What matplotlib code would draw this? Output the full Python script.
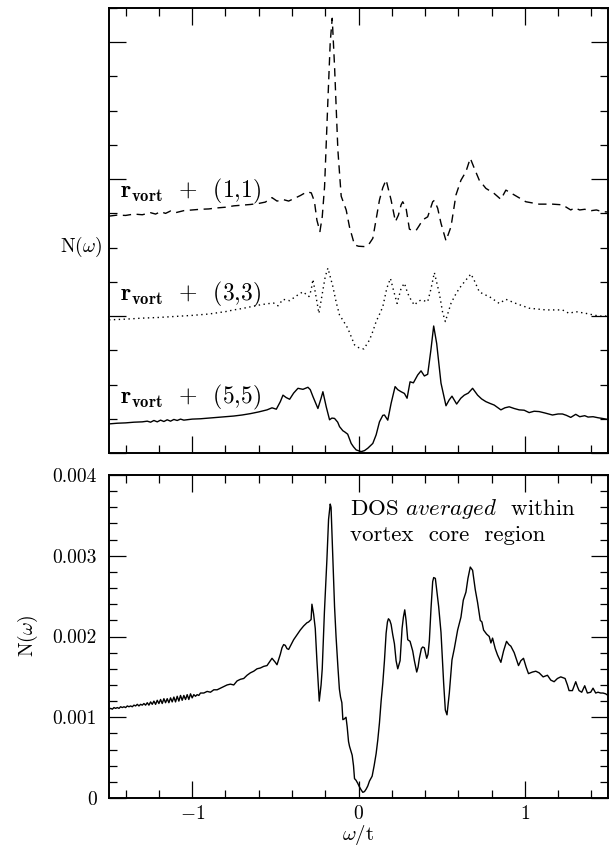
import numpy as np
import matplotlib
matplotlib.use("Agg")
import matplotlib.pyplot as plt
from matplotlib.ticker import MultipleLocator

plt.rcParams['font.family'] = ['cmr10', 'DejaVu Serif']
plt.rcParams['mathtext.fontset'] = 'cm'
plt.rcParams['axes.unicode_minus'] = False

# ---------------- data: top panel (offset curves, arbitrary units) ----------------
x_11 = [-1.50, -1.45, -1.40, -1.35, -1.30, -1.25, -1.22, -1.19, -1.16, -1.13, -1.10, -1.05,
        -1.00, -0.95, -0.90, -0.85, -0.80, -0.75, -0.70, -0.65, -0.60, -0.56, -0.52, -0.49,
        -0.45, -0.42, -0.38, -0.35, -0.31, -0.284, -0.265, -0.25, -0.232, -0.218, -0.204,
        -0.184, -0.17, -0.158, -0.144, -0.124, -0.104, -0.074, -0.054, -0.024, 0.00, 0.036,
        0.06, 0.086, 0.105, 0.126, 0.146, 0.166, 0.18, 0.196, 0.222, 0.24, 0.256, 0.266,
        0.286, 0.306, 0.326, 0.346, 0.366, 0.386, 0.416, 0.446, 0.456, 0.476, 0.496, 0.526,
        0.556, 0.586, 0.616, 0.646, 0.672, 0.696, 0.726, 0.766, 0.816, 0.856, 0.886, 0.936,
        1.006, 1.086, 1.166, 1.226, 1.276, 1.30, 1.33, 1.36, 1.40, 1.43, 1.466, 1.50]
y_11 = [6.92, 6.95, 6.94, 6.98, 6.96, 7.02, 6.98, 7.05, 7.00, 7.07, 7.02, 7.08,
        7.10, 7.12, 7.13, 7.16, 7.18, 7.22, 7.24, 7.26, 7.29, 7.33, 7.46, 7.36,
        7.40, 7.36, 7.45, 7.52, 7.63, 7.60, 7.35, 6.80, 6.47, 6.90, 7.78,
        10.30, 12.00, 12.70, 11.30, 8.85, 7.50, 7.10, 6.60, 6.08, 6.04, 6.03,
        6.08, 6.27, 6.80, 7.39, 7.75, 7.98, 7.70, 7.39, 6.76, 6.95, 7.25, 7.34,
        7.15, 6.54, 6.50, 6.50, 6.65, 6.81, 6.90, 7.34, 7.38, 7.15, 6.71, 6.20,
        6.61, 7.54, 7.97, 8.22, 8.61, 8.32, 7.97, 7.73, 7.58, 7.41, 7.68, 7.54,
        7.34, 7.27, 7.27, 7.25, 7.10, 7.16, 7.10, 7.12, 7.08, 7.10, 7.05, 7.04]

x_33 = [-1.50, -1.40, -1.30, -1.20, -1.10, -1.00, -0.90, -0.80, -0.75, -0.70, -0.65, -0.60,
        -0.55, -0.51, -0.484, -0.454, -0.414, -0.37, -0.334, -0.298, -0.285, -0.274, -0.26,
        -0.238, -0.214, -0.20, -0.184, -0.17, -0.154, -0.134, -0.114, -0.09, -0.064, -0.044,
        -0.024, 0.00, 0.032, 0.066, 0.086, 0.106, 0.126, 0.146, 0.17, 0.192, 0.21, 0.232,
        0.256, 0.276, 0.296, 0.316, 0.336, 0.356, 0.376, 0.416, 0.436, 0.456, 0.486, 0.506,
        0.522, 0.556, 0.58, 0.606, 0.64, 0.676, 0.70, 0.726, 0.756, 0.786, 0.816, 0.846,
        0.886, 0.946, 1.026, 1.126, 1.226, 1.266, 1.306, 1.366, 1.446, 1.50]
y_33 = [3.89, 3.91, 3.94, 3.96, 3.99, 4.02, 4.06, 4.13, 4.18, 4.22, 4.27, 4.32,
        4.36, 4.38, 4.30, 4.49, 4.45, 4.60, 4.71, 4.57, 4.75, 5.07, 4.70,
        4.08, 4.76, 5.15, 5.40, 5.15, 4.86, 4.40, 4.03, 3.85, 3.64, 3.40,
        3.16, 3.08, 3.04, 3.30, 3.55, 3.84, 4.05, 4.27, 4.81, 5.10, 4.76, 4.37,
        4.81, 4.96, 4.66, 4.47, 4.32, 4.42, 4.47, 4.42, 4.80, 5.27, 4.66, 4.10,
        3.84, 4.37, 4.60, 4.81, 5.02, 5.23, 5.00, 4.71, 4.63, 4.57, 4.47, 4.37,
        4.49, 4.37, 4.23, 4.18, 4.18, 4.08, 4.13, 4.08, 4.00, 4.00]

x_55 = [-1.50, -1.45, -1.40, -1.35, -1.30, -1.27, -1.25, -1.23, -1.21, -1.19, -1.17, -1.15,
        -1.13, -1.11, -1.09, -1.07, -1.05, -1.00, -0.95, -0.90, -0.85, -0.80, -0.75, -0.70,
        -0.65, -0.60, -0.55, -0.52, -0.494, -0.47, -0.454, -0.435, -0.414, -0.39, -0.364,
        -0.334, -0.304, -0.29, -0.274, -0.244, -0.225, -0.214, -0.194, -0.174, -0.16, -0.144,
        -0.125, -0.114, -0.094, -0.084, -0.065, -0.044, -0.03, -0.014, 0.016, 0.036, 0.056,
        0.086, 0.106, 0.126, 0.146, 0.156, 0.176, 0.196, 0.22, 0.236, 0.256, 0.276, 0.292,
        0.31, 0.33, 0.356, 0.376, 0.396, 0.416, 0.435, 0.452, 0.47, 0.496, 0.526, 0.545,
        0.562, 0.59, 0.615, 0.636, 0.66, 0.686, 0.716, 0.74, 0.766, 0.79, 0.816, 0.836,
        0.856, 0.88, 0.906, 0.936, 0.966, 0.996, 1.026, 1.056, 1.086, 1.12, 1.166, 1.20,
        1.226, 1.25, 1.276, 1.306, 1.33, 1.36, 1.38, 1.41, 1.44, 1.466, 1.50]
y_55 = [0.85, 0.87, 0.88, 0.90, 0.91, 0.93, 0.90, 0.95, 0.91, 0.96, 0.92, 0.97,
        0.93, 0.98, 0.95, 0.99, 0.96, 0.99, 1.00, 1.02, 1.04, 1.06, 1.08, 1.11,
        1.15, 1.20, 1.26, 1.32, 1.28, 1.50, 1.69, 1.62, 1.57, 1.75, 1.89,
        1.86, 1.92, 1.85, 1.65, 1.30, 1.60, 1.79, 1.35, 0.97, 1.02, 1.01,
        0.90, 0.77, 0.65, 0.62, 0.55, 0.28, 0.18, 0.09, 0.04, 0.07, 0.14,
        0.28, 0.53, 0.91, 1.10, 1.11, 0.96, 1.45, 1.94, 1.85, 1.79, 1.74, 1.60,
        2.08, 2.05, 2.28, 2.40, 2.25, 2.30, 3.00, 3.71, 3.20, 2.04, 1.38, 1.55,
        1.66, 1.43, 1.60, 1.69, 1.75, 1.89, 1.69, 1.58, 1.50, 1.45, 1.40, 1.33,
        1.26, 1.32, 1.35, 1.30, 1.26, 1.25, 1.18, 1.22, 1.21, 1.17, 1.11, 1.14,
        1.14, 1.10, 1.04, 1.13, 1.06, 1.09, 1.05, 1.06, 1.03, 1.01, 0.98]

labels_top = [r'$\mathbf{r}_{\mathbf{vort}}$  +  (1,1)',
              r'$\mathbf{r}_{\mathbf{vort}}$  +  (3,3)',
              r'$\mathbf{r}_{\mathbf{vort}}$  +  (5,5)']
label_y = [7.48, 4.47, 1.46]

# ---------------- data: bottom panel (averaged DOS, units of 1e-3) ----------------
x_avg = [-1.50, -1.49, -1.48, -1.47, -1.46, -1.45, -1.44, -1.43, -1.42, -1.41, -1.40, -1.39,
         -1.38, -1.37, -1.36, -1.35, -1.34, -1.33, -1.32, -1.31, -1.30, -1.29, -1.28, -1.27,
         -1.26, -1.25, -1.24, -1.23, -1.22, -1.21, -1.20, -1.19, -1.18, -1.17, -1.16, -1.15,
         -1.14, -1.13, -1.12, -1.11, -1.10, -1.09, -1.08, -1.07, -1.06, -1.05, -1.04, -1.03,
         -1.02, -1.01, -1.00, -0.99, -0.98, -0.97, -0.96, -0.95, -0.93, -0.91, -0.89, -0.87,
         -0.85, -0.83, -0.81, -0.79, -0.77, -0.75, -0.73, -0.71, -0.69, -0.67, -0.65, -0.63,
         -0.61, -0.59, -0.57, -0.55, -0.53, -0.52, -0.50, -0.49, -0.47, -0.46, -0.45, -0.44,
         -0.43, -0.42, -0.41, -0.39, -0.37, -0.35, -0.33, -0.31, -0.30, -0.29, -0.285, -0.28,
         -0.27, -0.26, -0.25, -0.236, -0.225, -0.218, -0.205, -0.19, -0.18, -0.17, -0.165,
         -0.158, -0.15, -0.144, -0.135, -0.124, -0.115, -0.108, -0.10, -0.094, -0.085, -0.075,
         -0.068, -0.06, -0.054, -0.045, -0.038, -0.03, -0.024, -0.015, -0.004, 0.005, 0.016,
         0.026, 0.036, 0.046, 0.056, 0.066, 0.082, 0.094, 0.106, 0.116, 0.126, 0.136, 0.146,
         0.156, 0.166, 0.174, 0.18, 0.188, 0.196, 0.206, 0.216, 0.226, 0.236, 0.25, 0.262,
         0.27, 0.278, 0.286, 0.296, 0.31, 0.318, 0.326, 0.336, 0.35, 0.358, 0.366, 0.378,
         0.386, 0.396, 0.41, 0.418, 0.426, 0.436, 0.446, 0.452, 0.462, 0.472, 0.482, 0.496,
         0.512, 0.522, 0.532, 0.546, 0.562, 0.576, 0.596, 0.616, 0.63, 0.646, 0.658, 0.672,
         0.686, 0.702, 0.716, 0.732, 0.742, 0.752, 0.77, 0.786, 0.796, 0.806, 0.822, 0.836,
         0.856, 0.872, 0.89, 0.904, 0.916, 0.936, 0.962, 0.976, 0.992, 1.008, 1.022, 1.046,
         1.066, 1.086, 1.11, 1.136, 1.156, 1.176, 1.196, 1.216, 1.242, 1.256, 1.266, 1.286,
         1.306, 1.316, 1.326, 1.342, 1.36, 1.376, 1.396, 1.41, 1.426, 1.44, 1.456, 1.47,
         1.486, 1.50]
n_avg_milli = [1.10, 1.11, 1.10, 1.12, 1.11, 1.12, 1.11, 1.13, 1.12, 1.13, 1.12, 1.14,
               1.13, 1.14, 1.13, 1.15, 1.14, 1.16, 1.14, 1.16, 1.15, 1.17, 1.15, 1.18,
               1.15, 1.19, 1.16, 1.20, 1.16, 1.21, 1.17, 1.22, 1.17, 1.23, 1.18, 1.23,
               1.18, 1.24, 1.19, 1.25, 1.19, 1.26, 1.20, 1.27, 1.21, 1.27, 1.22, 1.28,
               1.22, 1.29, 1.24, 1.28, 1.26, 1.28, 1.27, 1.30, 1.30, 1.32, 1.31, 1.34,
               1.34, 1.36, 1.38, 1.40, 1.41, 1.40, 1.45, 1.47, 1.48, 1.52, 1.55, 1.57,
               1.60, 1.61, 1.63, 1.64, 1.70, 1.73, 1.68, 1.65, 1.78, 1.86, 1.90, 1.89,
               1.85, 1.84, 1.88, 1.96, 2.02, 2.08, 2.13, 2.17, 2.18, 2.20, 2.21, 2.40,
               2.28, 2.10, 1.70, 1.20, 1.40, 1.60, 2.30, 2.95, 3.45, 3.64, 3.60,
               3.20, 2.75, 2.37, 2.00, 1.63, 1.35, 1.25, 1.18, 0.97, 0.98, 1.00,
               0.88, 0.70, 0.64, 0.58, 0.53, 0.40, 0.24, 0.22, 0.18, 0.14, 0.10,
               0.07, 0.08, 0.11, 0.15, 0.21, 0.27, 0.40, 0.55, 0.72, 0.93, 1.20, 1.42,
               1.70, 2.04, 2.18, 2.22, 2.20, 2.15, 2.02, 1.91, 1.70, 1.60, 1.70, 2.10,
               2.24, 2.33, 2.20, 1.96, 1.94, 1.88, 1.82, 1.70, 1.56, 1.62, 1.73, 1.85,
               1.87, 1.86, 1.73, 1.78, 1.95, 2.35, 2.68, 2.73, 2.72, 2.55, 2.37, 2.05,
               1.42, 1.09, 1.03, 1.30, 1.71, 1.85, 2.08, 2.24, 2.45, 2.55, 2.72, 2.86,
               2.82, 2.58, 2.42, 2.20, 2.18, 2.08, 2.03, 2.00, 1.92, 1.98, 1.85, 1.77,
               1.68, 1.82, 1.94, 1.90, 1.88, 1.80, 1.64, 1.70, 1.73, 1.62, 1.54, 1.56,
               1.57, 1.55, 1.50, 1.52, 1.46, 1.44, 1.48, 1.50, 1.48, 1.40, 1.33, 1.33,
               1.44, 1.38, 1.33, 1.31, 1.39, 1.30, 1.31, 1.36, 1.30, 1.31, 1.30, 1.30,
               1.29, 1.27]
n_avg = np.array(n_avg_milli) * 1e-3

ytick_vals = [0, 0.001, 0.002, 0.003, 0.004]
ytick_labels = ['0', '0.001', '0.002', '0.003', '0.004']
xtick_vals = [-1, 0, 1]
xtick_labels = [r'$-1$', r'$0$', r'$1$']

# ---------------- figure ----------------
W, H = 611, 852
fig = plt.figure(figsize=(W / 100, H / 100), dpi=100)

def frac(l, t, r, b):
    return [l / W, 1 - b / H, (r - l) / W, (b - t) / H]

ax1 = fig.add_axes(frac(109, 8, 608, 453))
ax2 = fig.add_axes(frac(109, 475, 608, 798))

for ax in (ax1, ax2):
    ax.set_xlim(-1.5, 1.5)
    ax.xaxis.set_major_locator(MultipleLocator(1))
    ax.xaxis.set_minor_locator(MultipleLocator(0.2))
    ax.tick_params(which='both', direction='in', top=True, right=True, width=0.9, color='black')
    ax.tick_params(which='major', length=12)
    ax.tick_params(which='minor', length=6)
    for s in ax.spines.values():
        s.set_linewidth(1.4)

# top panel
ax1.plot(x_11, y_11, color='black', lw=1.0, ls=(0, (6, 4)))
ax1.plot(x_33, y_33, color='black', lw=1.0, ls=(0, (1, 2.5)))
ax1.plot(x_55, y_55, color='black', lw=1.0, ls='-')
ax1.set_ylim(0, 13)
ax1.yaxis.set_major_locator(MultipleLocator(4))
ax1.yaxis.set_minor_locator(MultipleLocator(1))
ax1.set_xticklabels([])
ax1.set_yticklabels([])
for lab, yy in zip(labels_top, label_y):
    ax1.text(-1.435, yy, lab, fontsize=17, va='baseline', ha='left')
fig.text(60 / W, 1 - 247 / H, r'N($\omega$)', fontsize=14, va='center', ha='left')

# bottom panel
ax2.plot(x_avg, n_avg, color='black', lw=1.0)
ax2.set_ylim(0, 0.004)
ax2.yaxis.set_minor_locator(MultipleLocator(0.0002))
ax2.set_yticks(ytick_vals)
ax2.set_yticklabels(ytick_labels, fontsize=14)
ax2.set_xticks(xtick_vals)
ax2.set_xticklabels(xtick_labels, fontsize=14)
ax2.tick_params(axis='x', pad=5)
ax2.tick_params(axis='y', pad=9)
ax2.set_xlabel(r'$\omega$/t', fontsize=15, labelpad=0)
ax2.set_ylabel(r'N($\omega$)', fontsize=14, labelpad=9)
ax2.text(-0.05, 0.00351, r'DOS $\mathit{averaged}$  within', fontsize=16.5, va='baseline', ha='left')
ax2.text(-0.05, 0.00318, 'vortex  core  region', fontsize=16.5, va='baseline', ha='left')

fig.savefig('out.png', dpi=100)
